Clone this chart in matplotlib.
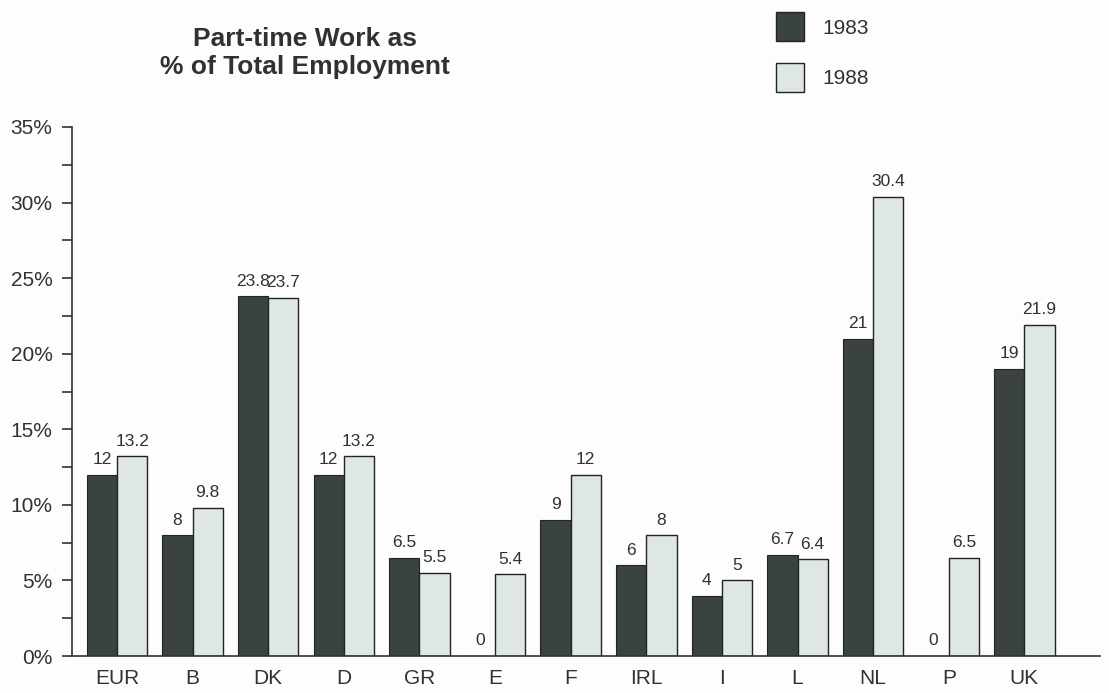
import numpy as np
import matplotlib.pyplot as plt
from matplotlib.patches import Rectangle
from matplotlib.ticker import MultipleLocator, FuncFormatter

# part-time work share by country
countries = ["EUR", "B", "DK", "D", "GR", "E", "F", "IRL", "I", "L", "NL", "P", "UK"]
share_1983 = [12, 8, 23.8, 12, 6.5, 0, 9, 6, 4, 6.7, 21, 0, 19]
share_1988 = [13.2, 9.8, 23.7, 13.2, 5.5, 5.4, 12, 8, 5, 6.4, 30.4, 6.5, 21.9]
years = ["1983", "1988"]

dark = "#3b4341"
light = "#dfe7e2"
ink = "#2e3331"

plt.rcParams['font.family'] = ['Liberation Sans', 'DejaVu Sans']

fig = plt.figure(figsize=(11.09, 6.93), dpi=100)
fig.patch.set_facecolor("#fdfdfb")
ax = fig.add_axes([72 / 1109, 37 / 693, (1100 - 72) / 1109, (656 - 127) / 693])
ax.set_facecolor("none")

x = np.arange(len(countries))
w = 0.4
b1 = ax.bar(x - w / 2, share_1983, w, color=dark, edgecolor="#202523", linewidth=0.8)
b2 = ax.bar(x + w / 2, share_1988, w, color=light, edgecolor="#202523", linewidth=1.0)

for rect, v in zip(b1, share_1983):
    ax.text(rect.get_x() + rect.get_width() / 2, v + 0.5, f"{v:g}",
            ha="center", va="bottom", fontsize=12.5, color=ink)
for rect, v in zip(b2, share_1988):
    ax.text(rect.get_x() + rect.get_width() / 2, v + 0.5, f"{v:g}",
            ha="center", va="bottom", fontsize=12.5, color=ink)

ax.set_ylim(0, 35)
ax.set_xlim(-0.595, 13.0)
ax.yaxis.set_major_locator(MultipleLocator(5))
ax.yaxis.set_minor_locator(MultipleLocator(2.5))
ax.yaxis.set_major_formatter(FuncFormatter(lambda v, p: f"{v:.0f}%"))
ax.tick_params(axis="y", which="both", direction="out", length=7, width=1.2,
               color=ink, labelsize=15, labelcolor=ink, pad=7)
ax.set_xticks(x)
ax.set_xticklabels(countries)
ax.tick_params(axis="x", length=0, labelsize=15, labelcolor=ink, pad=9)

for s in ["top", "right"]:
    ax.spines[s].set_visible(False)
ax.spines["left"].set_color(ink)
ax.spines["left"].set_linewidth(1.2)
ax.spines["bottom"].set_color(ink)
ax.spines["bottom"].set_linewidth(1.2)

fig.text(305 / 1109, 1 - 53 / 693, "Part-time Work as\n% of Total Employment",
         ha="center", va="center", fontsize=19, fontweight="bold", color=ink,
         linespacing=1.25)

# legend boxes
for i, (col, lab) in enumerate(zip([dark, light], years)):
    top = 12 + i * 51
    fig.add_artist(Rectangle((776 / 1109, 1 - (top + 29) / 693), 28 / 1109, 29 / 693,
                             transform=fig.transFigure, facecolor=col,
                             edgecolor="#202523", linewidth=1.0))
    fig.text(822 / 1109, 1 - (top + 16) / 693, lab, ha="left", va="center",
             fontsize=15, color=ink)

fig.savefig("out.png", dpi=100, facecolor=fig.get_facecolor())
